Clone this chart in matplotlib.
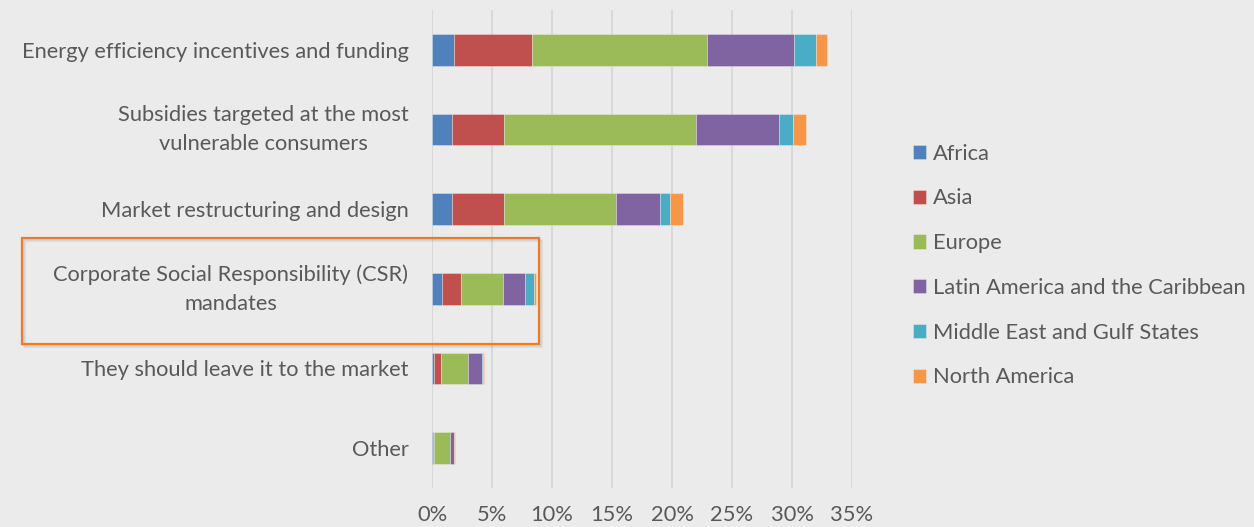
import matplotlib.pyplot as plt
import matplotlib.patches as mpatches
import numpy as np
from matplotlib.ticker import PercentFormatter

categories = [
    "Energy efficiency incentives and funding",
    "Subsidies targeted at the most\nvulnerable consumers",
    "Market restructuring and design",
    "Corporate Social Responsibility (CSR)\nmandates",
    "They should leave it to the market",
    "Other",
]

regions = [
    "Africa",
    "Asia",
    "Europe",
    "Latin America and the Caribbean",
    "Middle East and Gulf States",
    "North America",
]

# share of respondents (%) per region, one value per category
africa = [1.8, 1.7, 1.7, 0.87, 0.14, 0.05]
asia = [6.5, 4.3, 4.3, 1.53, 0.61, 0.14]
europe = [14.6, 16.0, 9.3, 3.5, 2.25, 1.33]
latam = [7.3, 6.9, 3.67, 1.86, 1.17, 0.28]
middle_east = [1.8, 1.17, 0.83, 0.72, 0.08, 0.05]
north_america = [0.94, 1.06, 1.08, 0.17, 0.12, 0.1]

series = [africa, asia, europe, latam, middle_east, north_america]
colors = ["#4F81BD", "#C0504D", "#9BBB59", "#8064A2", "#4BACC6", "#F79646"]

bg = "#EBEBEB"
text_color = "#595959"
plt.rcParams["font.family"] = ["Lato", "DejaVu Sans"]

fig = plt.figure(figsize=(12.54, 5.27), dpi=100, facecolor=bg)
ax = fig.add_axes([432 / 1254, 1 - 488 / 527, 420 / 1254, 478 / 527])
ax.set_facecolor(bg)

y = np.arange(len(categories))
left = np.zeros(len(categories))
for name, vals, c in zip(regions, series, colors):
    ax.barh(y, vals, left=left, height=0.4, color=c, label=name,
            edgecolor=(1, 1, 1, 0.35), linewidth=0.6, zorder=3)
    left += np.array(vals)

ax.set_xlim(0, 35)
ax.set_ylim(len(categories) - 0.5, -0.5)
ax.set_xticks(np.arange(0, 36, 5))
ax.xaxis.set_major_formatter(PercentFormatter(decimals=0))
ax.set_yticks(y)
ax.set_yticklabels(categories, multialignment="center", linespacing=1.55)
for lab in ax.get_yticklabels():
    if "\n" in lab.get_text():
        lab.set_verticalalignment("center")
ax.tick_params(axis="both", length=0, labelcolor=text_color, labelsize=15.75)
ax.tick_params(axis="x", pad=12)
ax.tick_params(axis="y", pad=17)
ax.grid(axis="x", color="#D9D9D9", linewidth=1.5, zorder=0)
for s in ax.spines.values():
    s.set_visible(False)

handles, labels = ax.get_legend_handles_labels()
fig.legend(handles, labels, loc="center left", bbox_to_anchor=(893 / 1254, 1 - 265.5 / 527),
           frameon=False, fontsize=15.75, labelcolor=text_color,
           handlelength=0.62, handleheight=0.62, handletextpad=0.3, labelspacing=1.13)

# orange highlight box around the CSR row, with a faint shadow
bx, by, bw, bh = 22 / 1254, 1 - 344 / 527, 517 / 1254, 106 / 527
for k in range(1, 4):
    fig.patches.append(mpatches.Rectangle(
        (bx + k / 1254, by - k / 527), bw, bh, transform=fig.transFigure,
        fill=False, edgecolor=(0, 0, 0, 0.05), linewidth=1.6, zorder=4))
fig.patches.append(mpatches.Rectangle(
    (bx, by), bw, bh, transform=fig.transFigure, fill=False,
    edgecolor="#F07A1E", linewidth=1.6, zorder=5))

fig.savefig("out.png", dpi=100, facecolor=bg)
